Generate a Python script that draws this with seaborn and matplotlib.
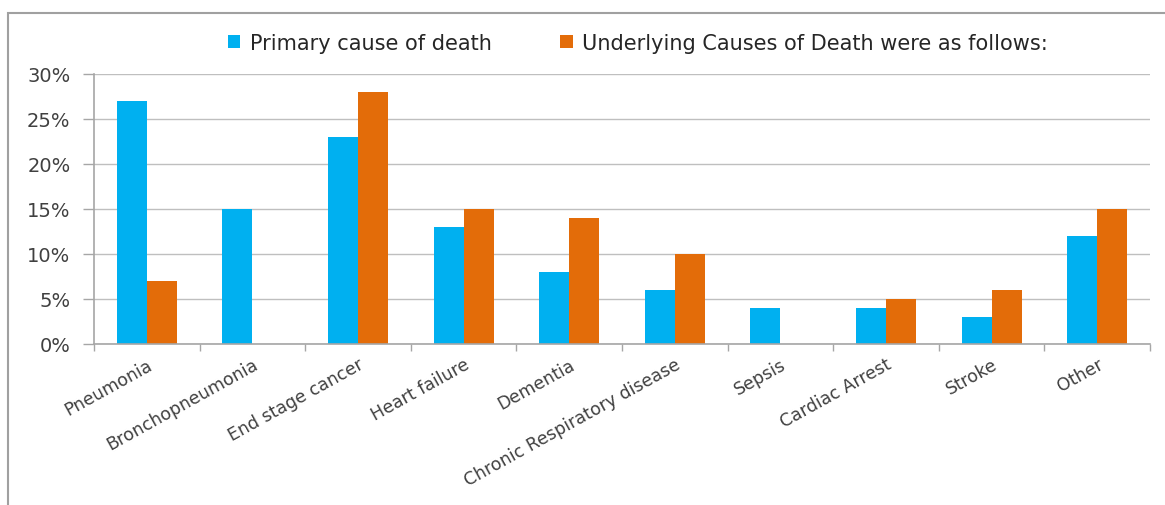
import numpy as np
import pandas as pd
import matplotlib
matplotlib.use("Agg")
import matplotlib.pyplot as plt
import seaborn as sns
from matplotlib.patches import Rectangle
from matplotlib.ticker import FuncFormatter, FixedLocator

categories = ["Pneumonia", "Bronchopneumonia", "End stage cancer", "Heart failure",
              "Dementia", "Chronic Respiratory disease", "Sepsis", "Cardiac Arrest",
              "Stroke", "Other"]
primary = [27, 15, 23, 13, 8, 6, 4, 4, 3, 12]
underlying = [7, np.nan, 28, 15, 14, 10, np.nan, 5, 6, 15]
series_names = ["Primary cause of death", "Underlying Causes of Death were as follows:"]
colors = ["#00B0F0", "#E36C09"]

df = pd.DataFrame({
    "cause": categories * 2,
    "value": primary + underlying,
    "series": [series_names[0]] * len(categories) + [series_names[1]] * len(categories),
})

sns.set_theme(style="white")
plt.rcParams["font.family"] = ["DejaVu Sans"]

fig = plt.figure(figsize=(11.65, 5.06), dpi=100)
ax = fig.add_axes([94 / 1165, 1 - 345 / 506, (1150 - 94) / 1165, (345 - 75) / 506])

sns.barplot(data=df, x="cause", y="value", hue="series", order=categories,
            hue_order=series_names, palette=colors, width=0.57, saturation=1,
            errorbar=None, ax=ax, legend=True, linewidth=0)

ax.set_ylim(0, 30)
ax.set_xlim(-0.5, len(categories) - 0.5)
ax.set_yticks(range(0, 31, 5))
ax.yaxis.set_major_formatter(FuncFormatter(lambda v, p: f"{int(v)}%"))
ax.grid(axis="y", color="#BFBFBF", linewidth=1)
ax.set_axisbelow(True)
for s in ["top", "right"]:
    ax.spines[s].set_visible(False)
for s in ["left", "bottom"]:
    ax.spines[s].set_color("#A6A6A6")
    ax.spines[s].set_linewidth(1.2)
ax.tick_params(axis="y", which="major", length=8, width=1, color="#A6A6A6",
               labelsize=14, labelcolor="#404040", pad=9, left=True)
ax.set_xticks(range(len(categories)))
ax.set_xticklabels(categories, rotation=29, ha="right", rotation_mode="anchor",
                   fontsize=12.5, color="#404040")
ax.tick_params(axis="x", which="major", length=0, pad=8)
ax.xaxis.set_minor_locator(FixedLocator(np.arange(-0.5, len(categories), 1.0)))
ax.tick_params(axis="x", which="minor", length=5, width=1, color="#A6A6A6", bottom=True)
ax.set_xlabel("")
ax.set_ylabel("")

leg = ax.legend(loc="center", bbox_to_anchor=(0.515, 1.115), ncol=2, frameon=False,
                fontsize=15, handlelength=0.6, handleheight=0.6, handletextpad=0.45,
                columnspacing=3.3, labelcolor="#262626")

fig.patches.append(Rectangle((8 / 1165, -0.01), 1.2, 1 - 14 / 506 + 0.01,
                             transform=fig.transFigure, fill=False,
                             edgecolor="#A0A0A0", linewidth=1.5))

fig.savefig("out.png", dpi=100)
